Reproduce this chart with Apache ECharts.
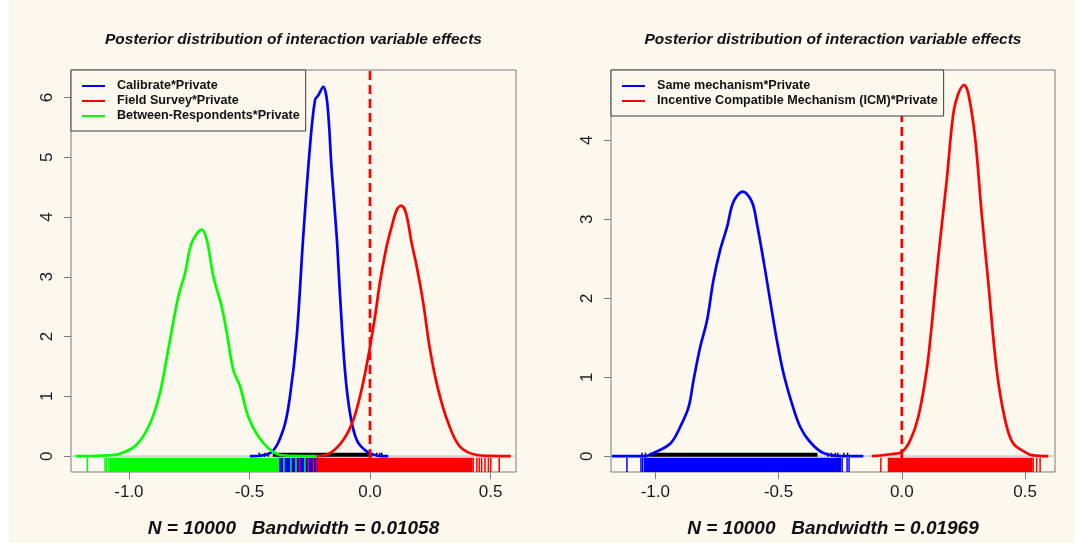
<!DOCTYPE html>
<html><head><meta charset="utf-8">
<script src="https://cdn.jsdelivr.net/npm/echarts@6/dist/echarts.min.js"></script>
<style>
html,body{margin:0;padding:0;background:#fff;}
#c{width:1075px;height:543px;background:linear-gradient(to right,#ffffff 0,#ffffff 9px,#fcf8ee 9px);}
</style></head><body><div id="c"></div>
<script>
// ---------- text ----------
const titleText = 'Posterior distribution of interaction variable effects';
const leftXLabel = 'N = 10000   Bandwidth = 0.01058';
const rightXLabel = 'N = 10000   Bandwidth = 0.01969';
const leftNames = ['Calibrate*Private', 'Field Survey*Private', 'Between-Respondents*Private'];
const rightNames = ['Same mechanism*Private', 'Incentive Compatible Mechanism (ICM)*Private'];

// ---------- ticks & axis limits ----------
const xTicks = [-1, -0.5, 0, 0.5];
const leftYTicks = [0, 1, 2, 3, 4, 5, 6];
const rightYTicks = [0, 1, 2, 3, 4];
const leftXRange = [-1.2402, 0.6056];
const leftYRange = [-0.265, 6.46];
const rightXRange = [-1.1796, 0.6214];
const rightYRange = [-0.2, 4.89];

// ---------- left panel densities ----------
const calibrateX = [-0.498, -0.415, -0.360, -0.332, -0.304, -0.277, -0.249, -0.228, -0.214, -0.194, -0.177, -0.159, -0.138, -0.124, -0.104, -0.083, -0.055, -0.014, 0.030, 0.076];
const calibrateY = [0, 0.05, 0.44, 1.0, 2.0, 3.67, 5.18, 5.96, 6.04, 6.18, 5.90, 4.79, 3.67, 2.67, 1.44, 0.72, 0.27, 0.08, 0.01, 0];
const fieldX = [-0.221, -0.166, -0.111, -0.069, -0.035, -0.007, 0.021, 0.041, 0.069, 0.090, 0.111, 0.129, 0.149, 0.173, 0.194, 0.221, 0.249, 0.283, 0.325, 0.373, 0.443, 0.50, 0.584];
const fieldY = [0, 0.05, 0.27, 0.61, 1.11, 1.67, 2.34, 2.90, 3.51, 3.84, 4.12, 4.19, 4.07, 3.56, 3.17, 2.56, 1.78, 1.11, 0.55, 0.16, 0.02, 0.005, 0];
const betweenX = [-1.221, -1.106, -1.037, -0.968, -0.912, -0.871, -0.837, -0.795, -0.767, -0.740, -0.698, -0.677, -0.650, -0.615, -0.594, -0.567, -0.539, -0.505, -0.463, -0.415, -0.373, -0.30, -0.221];
const betweenY = [0, 0.01, 0.04, 0.19, 0.55, 1.06, 1.78, 2.67, 3.06, 3.56, 3.79, 3.62, 3.01, 2.50, 2.06, 1.44, 1.17, 0.66, 0.33, 0.11, 0.02, 0.005, 0];

// ---------- right panel densities ----------
const sameX = [-1.176, -1.047, -1.007, -0.939, -0.899, -0.865, -0.845, -0.818, -0.790, -0.764, -0.737, -0.709, -0.683, -0.645, -0.608, -0.588, -0.554, -0.534, -0.507, -0.480, -0.446, -0.412, -0.372, -0.318, -0.237, -0.156];
const sameY = [0, 0.0, 0.04, 0.16, 0.37, 0.62, 0.96, 1.38, 1.72, 2.23, 2.61, 2.90, 3.22, 3.35, 3.22, 2.95, 2.35, 1.97, 1.47, 1.05, 0.67, 0.37, 0.18, 0.04, 0, 0];
const icmX = [-0.122, -0.047, 0.0, 0.034, 0.067, 0.101, 0.122, 0.148, 0.182, 0.209, 0.229, 0.253, 0.270, 0.297, 0.324, 0.351, 0.385, 0.419, 0.452, 0.507, 0.532, 0.594];
const icmY = [0, 0.025, 0.055, 0.20, 0.50, 1.09, 1.68, 2.52, 3.49, 4.34, 4.59, 4.70, 4.59, 4.04, 3.07, 2.19, 1.09, 0.46, 0.16, 0.04, 0.01, 0];

// ---------- rug marks: dense ranges and isolated ticks ----------
const calibrateRugRanges = [[-0.385, -0.214]];
const calibrateRugTicks = [];
const fieldRugRanges = [[-0.214, 0.422]];
const fieldRugTicks = [-0.292, -0.256, -0.235, -0.222, 0.428, 0.443, 0.453, 0.463, 0.477, 0.491, 0.501, 0.536];
const betweenRugRanges = [[-1.078, -0.380]];
const betweenRugTicks = [-1.1725, -1.099, -1.092, -1.083, -0.357, -0.328, -0.307, -0.27];
const leftBlackRanges = [[-0.40, 0.007]];
const leftBlackTicks = [-0.459, -0.436, -0.422, 0.028, 0.041, 0.049];
const sameRugRanges = [[-1.043, -0.249]];
const sameRugTicks = [-1.115, -1.058, -1.051, -0.242, -0.222, -0.214];
const icmRugRanges = [[-0.05, 0.527]];
const icmRugTicks = [-0.085, -0.054, 0.533, 0.547, 0.561];
const rightBlackRanges = [[-1.02, -0.345]];
const rightBlackTicks = [-1.054, -1.04, -0.30, -0.285, -0.27, -0.26, -0.235, -0.22];

// ---------- styles ----------
const FONT = 'Liberation Sans, Arial, sans-serif';
const BG = '#fcf8ee';
const BLUE = '#0000ff', RED = '#ff0000', GREEN = '#00ff00';

const zip = (xs, ys) => xs.map((x, i) => [x, ys[i]]);

function curve(name, idx, xs, ys, color) {
  return {
    type: 'line', name, xAxisIndex: idx, yAxisIndex: idx, data: zip(xs, ys),
    showSymbol: false, symbol: 'none', smooth: 0.35, z: 4, silent: true,
    lineStyle: { color, width: 2.7 }, itemStyle: { color }
  };
}
function rug(name, idx, color, ranges, ticks, side) {
  const data = ranges.map(r => [r[0], r[1], 0]).concat(ticks.map(t => [t, t, 0]));
  return {
    type: 'custom', name, xAxisIndex: idx, yAxisIndex: idx, silent: true, z: 3,
    encode: { x: [0, 1], y: 2 }, data,
    renderItem(params, api) {
      const a = api.coord([api.value(0), 0]);
      const b = api.coord([api.value(1), 0]);
      const cs = params.coordSys;
      const bottom = cs.y + cs.height;
      let top, bot;
      if (side === 'below') { top = a[1] + 1.5; bot = bottom; }
      else { top = a[1] - 3.5; bot = a[1] + 0.5; }
      return { type: 'rect', shape: { x: a[0] - 0.75, y: top, width: (b[0] - a[0]) + 1.5, height: bot - top }, style: { fill: color } };
    }
  };
}
function zeroLine(idx, range) {
  return { type: 'line', name: 'zero' + idx, xAxisIndex: idx, yAxisIndex: idx, data: [[range[0], 0], [range[1], 0]],
    showSymbol: false, symbol: 'none', silent: true, z: 1, lineStyle: { color: '#d4d4d4', width: 2 } };
}
function vline(idx, range) {
  return { type: 'line', name: 'v' + idx, xAxisIndex: idx, yAxisIndex: idx, data: [[0, range[0]], [0, range[1]]],
    showSymbol: false, symbol: 'none', silent: true, z: 5, lineStyle: { color: RED, width: 2.7, type: [9, 5] } };
}
function xAxis(idx, range, name) {
  return {
    type: 'value', gridIndex: idx, min: range[0], max: range[1],
    axisLine: { show: false, onZero: false }, splitLine: { show: false },
    axisTick: { show: true, length: 7, customValues: xTicks, lineStyle: { color: '#7a7a7a', width: 1 } },
    axisLabel: { customValues: xTicks, margin: 12, fontSize: 17, fontFamily: FONT, color: '#1a1a1a', formatter: v => v.toFixed(1) },
    name, nameLocation: 'middle', nameGap: 47,
    nameTextStyle: { fontSize: 19, fontWeight: 'bold', fontStyle: 'italic', fontFamily: FONT, color: '#111' }
  };
}
function yAxis(idx, range, ticks) {
  return {
    type: 'value', gridIndex: idx, min: range[0], max: range[1],
    axisLine: { show: false, onZero: false }, splitLine: { show: false },
    axisTick: { show: true, length: 7, customValues: ticks, lineStyle: { color: '#7a7a7a', width: 1 } },
    axisLabel: { customValues: ticks, rotate: 90, margin: 15, fontSize: 17, fontFamily: FONT, color: '#1a1a1a', formatter: v => String(Math.round(v)) }
  };
}
function legend(left, names) {
  return {
    left, top: 70, orient: 'vertical', data: names, selectedMode: false, z: 10,
    backgroundColor: BG, borderColor: '#3c3c3c', borderWidth: 1, borderRadius: 0,
    padding: [9, 6, 8, 11], itemGap: 1, itemWidth: 23, itemHeight: 2, icon: 'rect',
    textStyle: { fontSize: 12.6, fontWeight: 'bold', fontFamily: FONT, color: '#111', lineHeight: 14, padding: [0, 0, 0, 7] }
  };
}

const chart = echarts.init(document.getElementById('c'), null, { renderer: 'canvas' });
chart.setOption({
  backgroundColor: 'transparent',
  animation: false,
  title: [
    { text: titleText, left: 293.5, top: 32, textAlign: 'center', padding: 0,
      textStyle: { fontSize: 15.5, fontWeight: 'bold', fontStyle: 'italic', fontFamily: FONT, color: '#111' } },
    { text: titleText, left: 833, top: 32, textAlign: 'center', padding: 0,
      textStyle: { fontSize: 15.5, fontWeight: 'bold', fontStyle: 'italic', fontFamily: FONT, color: '#111' } }
  ],
  grid: [
    { left: 71, top: 70, width: 445, height: 402, show: true, borderColor: '#7a7a7a', borderWidth: 1, backgroundColor: 'transparent', containLabel: false },
    { left: 611, top: 70, width: 444, height: 402, show: true, borderColor: '#7a7a7a', borderWidth: 1, backgroundColor: 'transparent', containLabel: false }
  ],
  xAxis: [xAxis(0, leftXRange, leftXLabel), xAxis(1, rightXRange, rightXLabel)],
  yAxis: [yAxis(0, leftYRange, leftYTicks), yAxis(1, rightYRange, rightYTicks)],
  legend: [legend(71, leftNames), legend(611, rightNames)],
  series: [
    zeroLine(0, leftXRange),
    rug('rugCal', 0, BLUE, calibrateRugRanges, calibrateRugTicks, 'below'),
    rug('rugField', 0, RED, fieldRugRanges, fieldRugTicks, 'below'),
    rug('rugBetween', 0, GREEN, betweenRugRanges, betweenRugTicks, 'below'),
    rug('rugBlackL', 0, '#000000', leftBlackRanges, leftBlackTicks, 'above'),
    curve(leftNames[0], 0, calibrateX, calibrateY, BLUE),
    curve(leftNames[1], 0, fieldX, fieldY, RED),
    curve(leftNames[2], 0, betweenX, betweenY, GREEN),
    vline(0, leftYRange),

    zeroLine(1, rightXRange),
    rug('rugSame', 1, BLUE, sameRugRanges, sameRugTicks, 'below'),
    rug('rugIcm', 1, RED, icmRugRanges, icmRugTicks, 'below'),
    rug('rugBlackR', 1, '#000000', rightBlackRanges, rightBlackTicks, 'above'),
    curve(rightNames[0], 1, sameX, sameY, BLUE),
    curve(rightNames[1], 1, icmX, icmY, RED),
    vline(1, rightYRange)
  ]
});
</script></body></html>
